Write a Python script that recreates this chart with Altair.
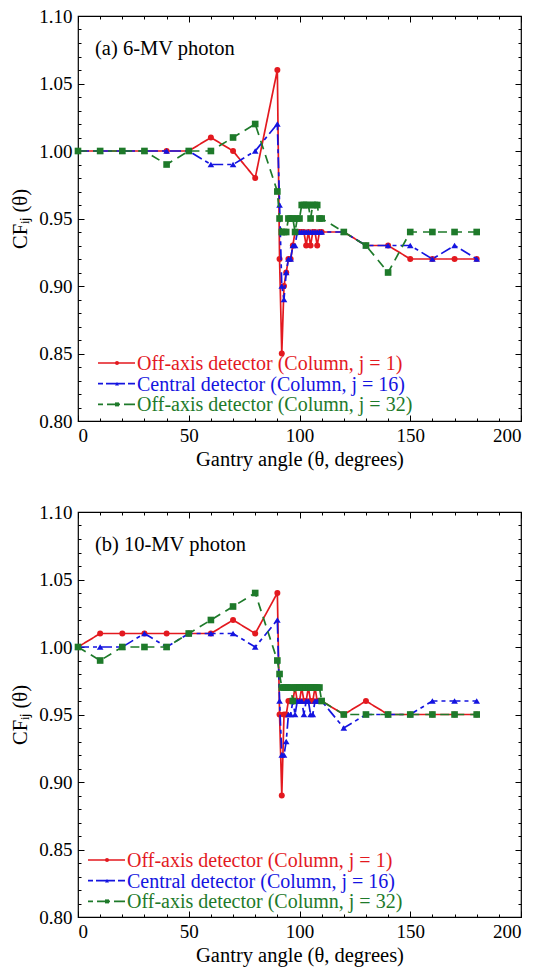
import altair as alt
import pandas as pd

# ---------------- data ----------------
ANGLES = [0, 10, 20, 30, 40, 50, 60, 70, 80,
          90, 91, 92, 93, 94, 95, 96, 97, 98, 99, 100,
          101, 102, 103, 104, 105, 106, 107, 108, 109, 110,
          120, 130, 140, 150, 160, 170, 180]

# (a) 6-MV photon
A_J1 = [1.00, 1.00, 1.00, 1.00, 1.00, 1.00, 1.01, 1.00, 0.98,
        1.06, 0.92, 0.85, 0.90, 0.91, 0.92, 0.92, 0.93, 0.94, 0.94, 0.94,
        0.94, 0.94, 0.93, 0.94, 0.93, 0.94, 0.94, 0.93, 0.94, 0.94,
        0.94, 0.93, 0.93, 0.92, 0.92, 0.92, 0.92]
A_J16 = [1.00, 1.00, 1.00, 1.00, 1.00, 1.00, 0.99, 0.99, 1.00,
         1.02, 0.96, 0.90, 0.89, 0.91, 0.92, 0.92, 0.93, 0.93, 0.94, 0.94,
         0.94, 0.94, 0.94, 0.94, 0.94, 0.94, 0.94, 0.94, 0.94, 0.94,
         0.94, 0.93, 0.93, 0.93, 0.92, 0.93, 0.92]
A_J32 = [1.00, 1.00, 1.00, 1.00, 0.99, 1.00, 1.00, 1.01, 1.02,
         0.97, 0.95, 0.94, 0.94, 0.94, 0.95, 0.95, 0.95, 0.94, 0.95, 0.95,
         0.96, 0.96, 0.96, 0.96, 0.95, 0.96, 0.96, 0.96, 0.95, 0.95,
         0.94, 0.93, 0.91, 0.94, 0.94, 0.94, 0.94]

# (b) 10-MV photon
B_J1 = [1.00, 1.01, 1.01, 1.01, 1.01, 1.01, 1.01, 1.02, 1.01,
        1.04, 0.95, 0.89, 0.95, 0.95, 0.96, 0.96, 0.96, 0.97, 0.96, 0.96,
        0.97, 0.96, 0.96, 0.97, 0.96, 0.96, 0.97, 0.96, 0.96, 0.96,
        0.95, 0.96, 0.95, 0.95, 0.95, 0.95, 0.95]
B_J16 = [1.00, 1.00, 1.00, 1.01, 1.00, 1.01, 1.01, 1.01, 1.00,
         1.02, 0.96, 0.92, 0.92, 0.93, 0.95, 0.95, 0.96, 0.95, 0.96, 0.96,
         0.96, 0.95, 0.96, 0.96, 0.95, 0.95, 0.96, 0.96, 0.96, 0.96,
         0.94, 0.95, 0.95, 0.95, 0.96, 0.96, 0.96]
B_J32 = [1.00, 0.99, 1.00, 1.00, 1.00, 1.01, 1.02, 1.03, 1.04,
         0.99, 0.98, 0.97, 0.97, 0.97, 0.97, 0.97, 0.96, 0.97, 0.97, 0.97,
         0.97, 0.97, 0.97, 0.97, 0.97, 0.97, 0.97, 0.97, 0.97, 0.96,
         0.95, 0.95, 0.95, 0.95, 0.95, 0.95, 0.95]

SERIES = ["Off-axis detector (Column, j = 1)",
          "Central detector (Column, j = 16)",
          "Off-axis detector (Column, j = 32)"]
PANEL_LABELS = ["(a) 6-MV photon", "(b) 10-MV photon"]

X_MAJOR = [0, 50, 100, 150, 200]
X_MINOR = [0, 10, 20, 30, 40, 50, 60, 70, 80, 90, 100, 110, 120, 130, 140,
           150, 160, 170, 180, 190, 200]
Y_MAJOR = [0.80, 0.85, 0.90, 0.95, 1.00, 1.05, 1.10]
Y_MINOR = [0.80, 0.81, 0.82, 0.83, 0.84, 0.85, 0.86, 0.87, 0.88, 0.89, 0.90,
           0.91, 0.92, 0.93, 0.94, 0.95, 0.96, 0.97, 0.98, 0.99, 1.00, 1.01,
           1.02, 1.03, 1.04, 1.05, 1.06, 1.07, 1.08, 1.09, 1.10]

# ---------------- style ----------------
COLORS = ["#e3191f", "#1414e0", "#1e7a2a"]
DASHES = [[1, 0], [11, 4, 4, 4], [9, 6]]
LEG_DASHES = [[1, 0], [5, 3, 14, 0], [5, 4, 8, 0]]
SHAPES = ["circle", "triangle-up", "square"]
SIZES = [36, 44, 44]
FONT = "Liberation Serif"
FS_TICK = 19
FS = 20.5
FS_LEG = 20
W, H = 443, 405
XD = [0, 200]
YD = [0.80, 1.10]

xs = alt.Scale(domain=XD, nice=False, zero=False)
ys = alt.Scale(domain=YD, nice=False, zero=False)


def px_to_x(px):
    return XD[0] + px / W * (XD[1] - XD[0])


def px_to_y(py):
    return YD[1] - py / H * (YD[1] - YD[0])


axis_src = pd.DataFrame({"angle": XD, "value": YD})


def xaxis(**kw):
    return alt.Chart(axis_src).mark_point(opacity=0).encode(
        x=alt.X("angle:Q", scale=xs, axis=alt.Axis(grid=False, **kw)),
        y=alt.Y("value:Q", scale=ys, axis=None))


def yaxis(**kw):
    return alt.Chart(axis_src).mark_point(opacity=0).encode(
        x=alt.X("angle:Q", scale=xs, axis=None),
        y=alt.Y("value:Q", scale=ys, axis=alt.Axis(grid=False, **kw)))


def enc_xy(xf="angle", yf="value"):
    return dict(x=alt.X(xf + ":Q", scale=xs, axis=None),
                y=alt.Y(yf + ":Q", scale=ys, axis=None))


def panel(idx, series_vals, leg_x0, leg_y0):
    layers = []
    for i, vals in enumerate(series_vals):
        df = pd.DataFrame({"angle": ANGLES, "value": vals})
        layers.append(alt.Chart(df).mark_line(
            color=COLORS[i], strokeDash=DASHES[i], strokeWidth=1.7).encode(**enc_xy()))
        layers.append(alt.Chart(df).mark_point(
            shape=SHAPES[i], filled=True, color=COLORS[i], opacity=1,
            size=SIZES[i]).encode(**enc_xy()))

    # legend (manual, inside plot)
    for i, name in enumerate(SERIES):
        yy = px_to_y(leg_y0 + i * 20.7)
        ldf = pd.DataFrame({"label": [name],
                            "x0": [px_to_x(leg_x0)], "x1": [px_to_x(leg_x0 + 37)],
                            "xm": [px_to_x(leg_x0 + 19)], "xt": [px_to_x(leg_x0 + 39)],
                            "y": [yy]})
        layers.append(alt.Chart(ldf).mark_rule(
            color=COLORS[i], strokeDash=LEG_DASHES[i], strokeWidth=1.7).encode(
            x=alt.X("x0:Q", scale=xs, axis=None), x2="x1:Q",
            y=alt.Y("y:Q", scale=ys, axis=None)))
        layers.append(alt.Chart(ldf).mark_point(
            shape=SHAPES[i], filled=True, color=COLORS[i], opacity=1,
            size=16).encode(**enc_xy("xm", "y")))
        layers.append(alt.Chart(ldf).mark_text(
            align="left", baseline="middle", color=COLORS[i], font=FONT,
            fontSize=FS_LEG, dy=1).encode(text="label:N", **enc_xy("xt", "y")))

    # panel label
    tdf = pd.DataFrame({"t": [PANEL_LABELS[idx]], "x": [px_to_x(17)], "y": [px_to_y(39)]})
    layers.append(alt.Chart(tdf).mark_text(
        align="left", baseline="alphabetic", color="black", font=FONT,
        fontSize=FS).encode(text="t:N", **enc_xy("x", "y")))

    # axes
    layers += [
        xaxis(orient="bottom", values=X_MAJOR, ticks=False, domain=False,
              labelPadding=5, labelFontSize=FS_TICK,
              title="Gantry angle (\u03b8, degrees)", titlePadding=4),
        xaxis(orient="bottom", values=X_MAJOR, labels=False, domain=False,
              tickSize=6, offset=-6, title=None),
        xaxis(orient="bottom", values=X_MINOR, labels=False, domain=False,
              tickSize=3, offset=-3, title=None),
        xaxis(orient="top", values=X_MAJOR, labels=False, domain=False,
              tickSize=6, offset=-6, title=None),
        xaxis(orient="top", values=X_MINOR, labels=False, domain=False,
              tickSize=3, offset=-3, title=None),
        yaxis(orient="left", values=Y_MAJOR, format=".2f", ticks=False,
              domain=False, labelPadding=6, labelFontSize=FS_TICK,
              title="CF\u1d62\u2c7c (\u03b8)", titlePadding=8),
        yaxis(orient="left", values=Y_MAJOR, labels=False, domain=False,
              tickSize=6, offset=-6, title=None),
        yaxis(orient="left", values=Y_MINOR, labels=False, domain=False,
              tickSize=3, offset=-3, title=None),
        yaxis(orient="right", values=Y_MAJOR, labels=False, domain=False,
              tickSize=6, offset=-6, title=None),
        yaxis(orient="right", values=Y_MINOR, labels=False, domain=False,
              tickSize=3, offset=-3, title=None),
    ]
    return alt.layer(*layers).resolve_axis(x="independent", y="independent").properties(
        width=W, height=H)


top = panel(0, [A_J1, A_J16, A_J32], 20, 347)
bottom = panel(1, [B_J1, B_J16, B_J32], 10, 348)

chart = alt.vconcat(top, bottom, spacing=31).properties(
    padding={"left": 10, "top": 6, "right": 5, "bottom": 5},
    background="white",
).configure_view(stroke="black", strokeWidth=1.2).configure_axis(
    labelFont=FONT, titleFont=FONT, labelFontSize=FS_TICK, titleFontSize=FS,
    labelColor="black", titleColor="black", tickColor="black",
    titleFontWeight="normal", tickWidth=1)

chart.save("out.html", embed_options={"renderer": "svg", "actions": False})
